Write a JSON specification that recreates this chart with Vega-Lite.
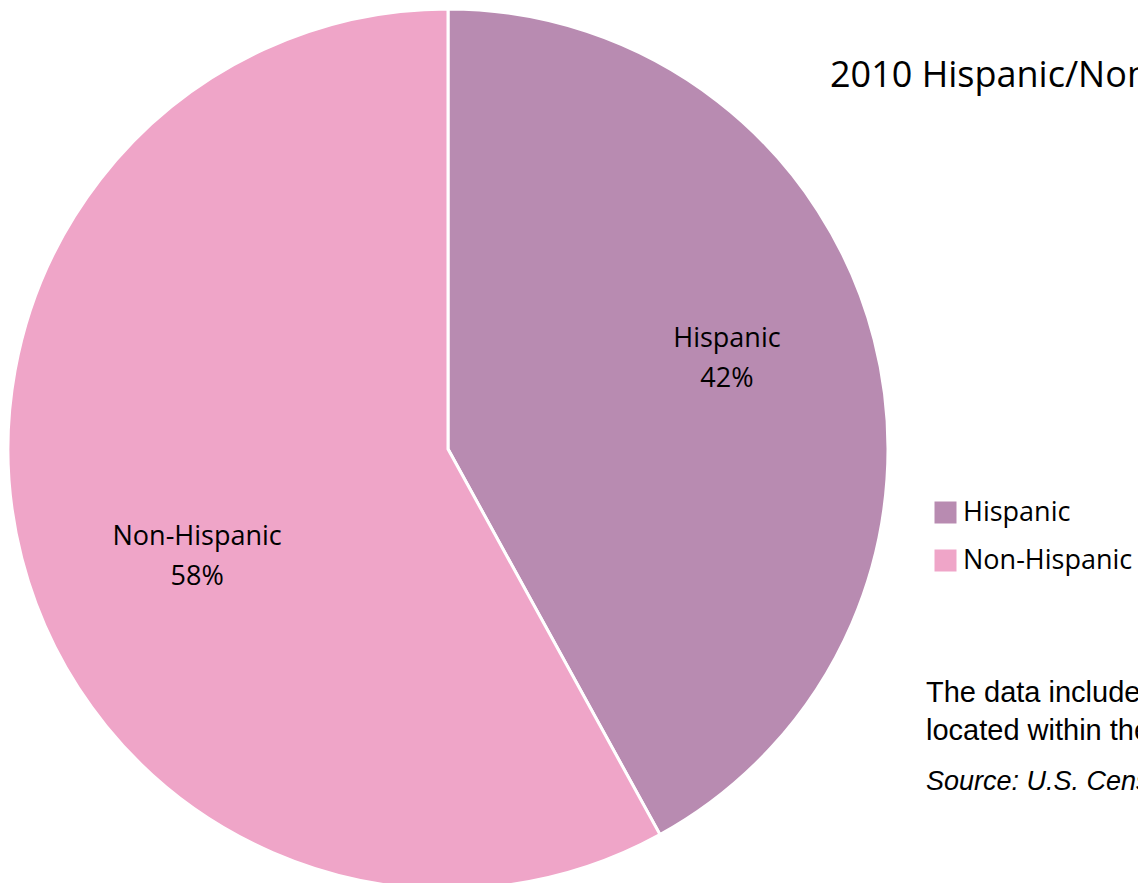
{
  "$schema": "https://vega.github.io/schema/vega-lite/v6.json",
  "width": 896,
  "height": 898,
  "autosize": {"type": "none"},
  "padding": {"left": 0, "top": 0, "right": 242, "bottom": 0},
  "background": "white",
  "config": {"view": {"stroke": null}, "font": "Open Sans"},
  "layer": [
    {
      "data": {"values": [
        {"group": "Hispanic", "pct": 42},
        {"group": "Non-Hispanic", "pct": 58}
      ]},
      "layer": [
        {
          "mark": {"type": "arc", "outerRadius": 440, "stroke": "white", "strokeWidth": 3},
          "encoding": {
            "theta": {"field": "pct", "type": "quantitative", "stack": true},
            "color": {
              "field": "group", "type": "nominal",
              "scale": {"domain": ["Hispanic", "Non-Hispanic"], "range": ["#B88BB1", "#EFA5C8"]},
              "legend": {
                "title": null, "orient": "none", "legendX": 932, "legendY": 499,
                "symbolType": "square", "symbolSize": 484, "symbolStrokeWidth": 0,
                "labelFont": "Open Sans", "labelFontSize": 27, "labelColor": "black",
                "labelOffset": 4, "labelLimit": 0, "rowPadding": 20, "padding": 0
              }
            }
          }
        },
        {
          "transform": [{"calculate": "[datum.group, datum.pct + '%']", "as": "label"}],
          "mark": {"type": "text", "radius": 288, "dy": -38, "fontSize": 27, "font": "Open Sans", "color": "black", "lineHeight": 40},
          "encoding": {
            "theta": {"field": "pct", "type": "quantitative", "stack": true},
            "order": {"field": "group"},
            "text": {"condition": {"test": "datum.group === 'Hispanic'", "field": "label"}, "value": ""}
          }
        },
        {
          "transform": [{"calculate": "[datum.group, datum.pct + '%']", "as": "label"}],
          "mark": {"type": "text", "radius": 259, "dy": 24, "fontSize": 27, "font": "Open Sans", "color": "black", "lineHeight": 40},
          "encoding": {
            "theta": {"field": "pct", "type": "quantitative", "stack": true},
            "order": {"field": "group"},
            "text": {"condition": {"test": "datum.group === 'Non-Hispanic'", "field": "label"}, "value": ""}
          }
        }
      ]
    },
    {
      "data": {"values": [{"t": "2010 Hispanic/Non-Hispanic Population"}]},
      "mark": {"type": "text", "align": "left", "baseline": "alphabetic", "fontSize": 36, "font": "Open Sans", "color": "black"},
      "encoding": {"x": {"value": 830}, "y": {"value": 87}, "text": {"field": "t"}}
    },
    {
      "data": {"values": [{"t": ["The data includes all census tracts", "located within the county."]}]},
      "mark": {"type": "text", "align": "left", "baseline": "alphabetic", "fontSize": 29, "font": "Liberation Sans", "color": "black", "lineHeight": 38},
      "encoding": {"x": {"value": 926}, "y": {"value": 702}, "text": {"field": "t"}}
    },
    {
      "data": {"values": [{"t": "Source: U.S. Census Bureau, 2010 Census"}]},
      "mark": {"type": "text", "align": "left", "baseline": "alphabetic", "fontSize": 27, "font": "Liberation Sans", "fontStyle": "italic", "color": "black"},
      "encoding": {"x": {"value": 926}, "y": {"value": 790}, "text": {"field": "t"}}
    }
  ]
}
